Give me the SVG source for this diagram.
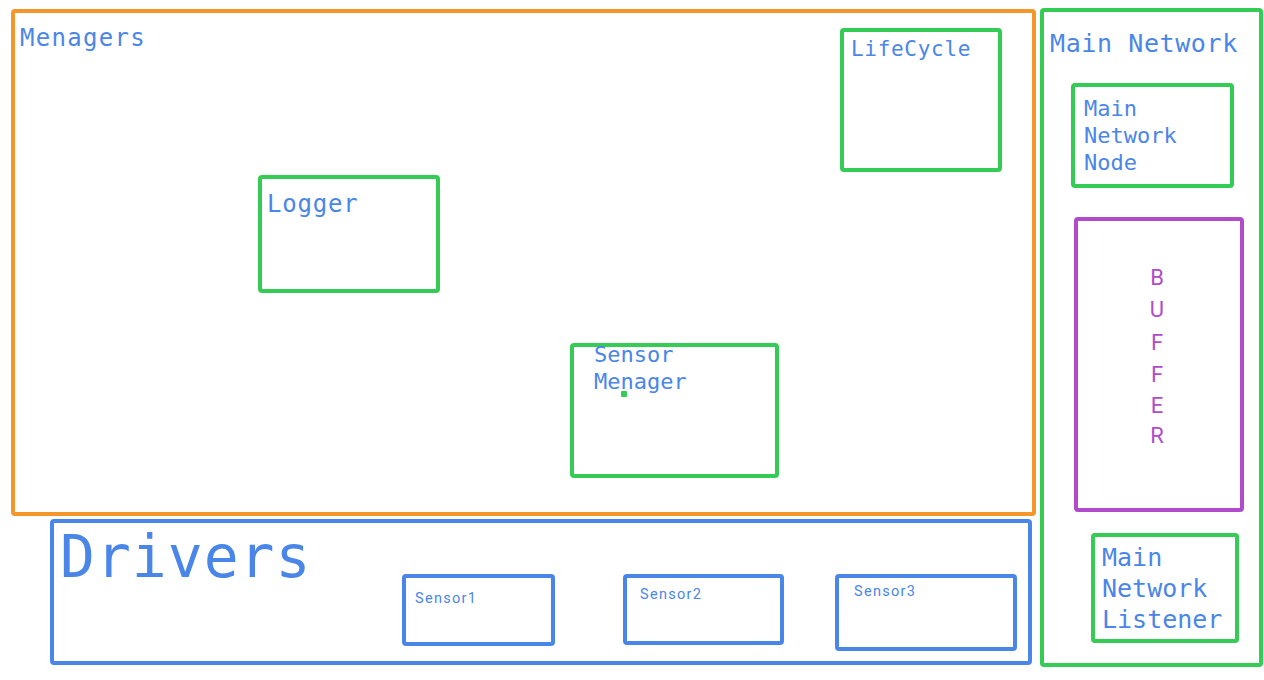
<svg xmlns="http://www.w3.org/2000/svg" width="1264" height="680" viewBox="0 0 1264 680">
<style>
.box{fill:none;stroke-width:4;stroke-linejoin:round}
.g{stroke:#34CC55}
.o{stroke:#F5962A}
.b{stroke:#4A86E8}
.p{stroke:#B04CCB}
.t{font-family:"DejaVu Sans Mono","Liberation Mono",monospace;fill:#4A86E8}
.s{font-family:Roboto,"Noto Sans",sans-serif;fill:#4A86E8}
.buf{font-family:Roboto,"Noto Sans",sans-serif;fill:#B04CCB;font-size:22px;text-anchor:middle}
</style>
<rect width="1264" height="680" fill="#ffffff"/>
<g id="menagers">
<rect class="box o" x="13" y="11" width="1021" height="503" rx="2"/>
<text class="t" x="20" y="46" font-size="24" letter-spacing="1.3">Menagers</text>
</g>
<g id="lifecycle">
<rect class="box g" x="842" y="30" width="158" height="140" rx="2"/>
<text class="t" x="851" y="56" font-size="21" letter-spacing="0.7">LifeCycle</text>
</g>
<g id="logger">
<rect class="box g" x="260" y="177" width="178" height="114" rx="2"/>
<text class="t" x="267" y="212" font-size="24" letter-spacing="0.8">Logger</text>
</g>
<g id="sensor-menager">
<rect class="box g" x="572" y="345" width="205" height="131" rx="2"/>
<text class="t" x="594" y="362" font-size="22">Sensor</text>
<text class="t" x="594" y="389" font-size="22">Menager</text>
<rect x="621" y="391" width="6" height="6" rx="1" fill="#34CC55"/>
</g>
<g id="main-network">
<rect class="box g" x="1042" y="10" width="219" height="655" rx="2"/>
<text class="t" x="1050" y="52" font-size="25" letter-spacing="0.6">Main Network</text>
</g>
<g id="main-network-node">
<rect class="box g" x="1073" y="85" width="159" height="101" rx="2"/>
<text class="t" x="1084" y="116" font-size="22">Main</text>
<text class="t" x="1084" y="143" font-size="22">Network</text>
<text class="t" x="1084" y="170" font-size="22">Node</text>
</g>
<g id="buffer">
<rect class="box p" x="1076" y="219" width="166" height="291" rx="2"/>
<text class="buf" x="1157" y="285">B</text>
<text class="buf" x="1157" y="317">U</text>
<text class="buf" x="1157" y="350">F</text>
<text class="buf" x="1157" y="382">F</text>
<text class="buf" x="1157" y="413">E</text>
<text class="buf" x="1157" y="443">R</text>
</g>
<g id="main-network-listener">
<rect class="box g" x="1093" y="535" width="144" height="106" rx="2"/>
<text class="t" x="1102" y="566" font-size="25">Main</text>
<text class="t" x="1102" y="597" font-size="25">Network</text>
<text class="t" x="1102" y="628" font-size="25">Listener</text>
</g>
<g id="drivers">
<rect class="box b" x="52" y="521" width="978" height="142" rx="2"/>
<text class="t" x="60" y="577" font-size="58" letter-spacing="1">Drivers</text>
</g>
<g id="sensor1">
<rect class="box b" x="404" y="576" width="149" height="68" rx="2"/>
<text class="s" x="415" y="603" font-size="14.5" letter-spacing="1.3">Sensor1</text>
</g>
<g id="sensor2">
<rect class="box b" x="625" y="576" width="157" height="67" rx="2"/>
<text class="s" x="640" y="599" font-size="14.5" letter-spacing="1.3">Sensor2</text>
</g>
<g id="sensor3">
<rect class="box b" x="837" y="576" width="178" height="73" rx="2"/>
<text class="s" x="854" y="596" font-size="14.5" letter-spacing="1.3">Sensor3</text>
</g>
<g id="connectors"></g>
</svg>
